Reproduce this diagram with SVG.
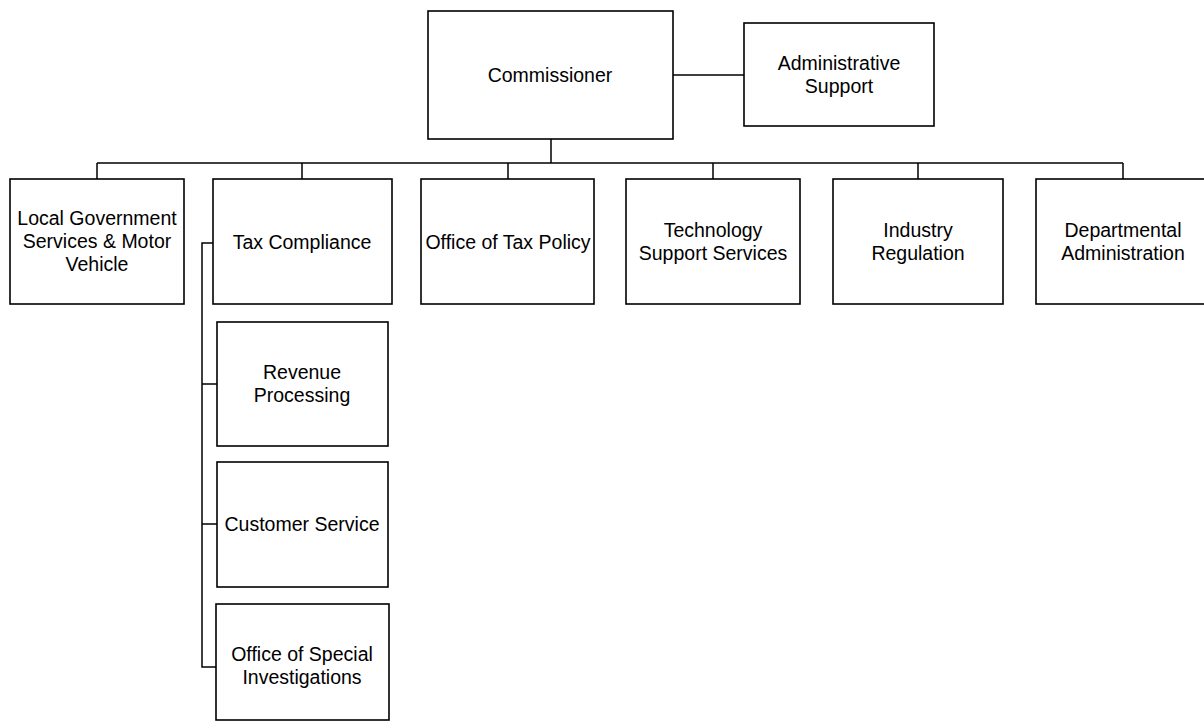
<svg xmlns="http://www.w3.org/2000/svg" width="1204" height="725" viewBox="0 0 1204 725">
<style>
.box{fill:#fff;stroke:#000;stroke-width:1.6}
.t{font-family:"Liberation Sans",Arial,sans-serif;font-size:19.5px;fill:#000;text-anchor:middle;dominant-baseline:central}
.c{fill:none;stroke:#000;stroke-width:1.5}
</style>
<rect width="1204" height="725" fill="#fff"/>
<g id="connectors">
<path class="c" d="M551 139 V163 M97 163 H1123 M97 163 V179 M302 163 V179 M508 163 V179 M713 163 V179 M918 163 V179 M1123 163 V179"/>
<path class="c" d="M673 75 H744"/>
<path class="c" d="M213 243 H202 V667 H216 M202 384 H217 M202 524 H217"/>
</g>
<g id="commissioner"><rect class="box" x="428" y="11" width="245" height="128"/><text class="t" x="550" y="75">Commissioner</text></g>
<g id="admin-support"><rect class="box" x="744" y="23" width="190" height="103"/><text class="t" x="839" y="63">Administrative</text><text class="t" x="839" y="86">Support</text></g>
<g id="local-gov"><rect class="box" x="10" y="179" width="174" height="125"/><text class="t" x="97" y="218">Local Government</text><text class="t" x="97" y="241">Services &amp; Motor</text><text class="t" x="97" y="264">Vehicle</text></g>
<g id="tax-compliance"><rect class="box" x="213" y="179" width="179" height="125"/><text class="t" x="302" y="242">Tax Compliance</text></g>
<g id="tax-policy"><rect class="box" x="421" y="179" width="173" height="125"/><text class="t" x="508" y="242">Office of Tax Policy</text></g>
<g id="tech-support"><rect class="box" x="626" y="179" width="174" height="125"/><text class="t" x="713" y="230">Technology</text><text class="t" x="713" y="253">Support Services</text></g>
<g id="industry-regulation"><rect class="box" x="833" y="179" width="170" height="125"/><text class="t" x="918" y="230">Industry</text><text class="t" x="918" y="253">Regulation</text></g>
<g id="dept-admin"><rect class="box" x="1036" y="179" width="176" height="125"/><text class="t" x="1123" y="230">Departmental</text><text class="t" x="1123" y="253">Administration</text></g>
<g id="revenue-processing"><rect class="box" x="217" y="322" width="171" height="124"/><text class="t" x="302" y="372">Revenue</text><text class="t" x="302" y="395">Processing</text></g>
<g id="customer-service"><rect class="box" x="217" y="462" width="171" height="125"/><text class="t" x="302" y="524">Customer Service</text></g>
<g id="special-investigations"><rect class="box" x="216" y="604" width="173" height="116"/><text class="t" x="302" y="654">Office of Special</text><text class="t" x="302" y="677">Investigations</text></g>
</svg>
